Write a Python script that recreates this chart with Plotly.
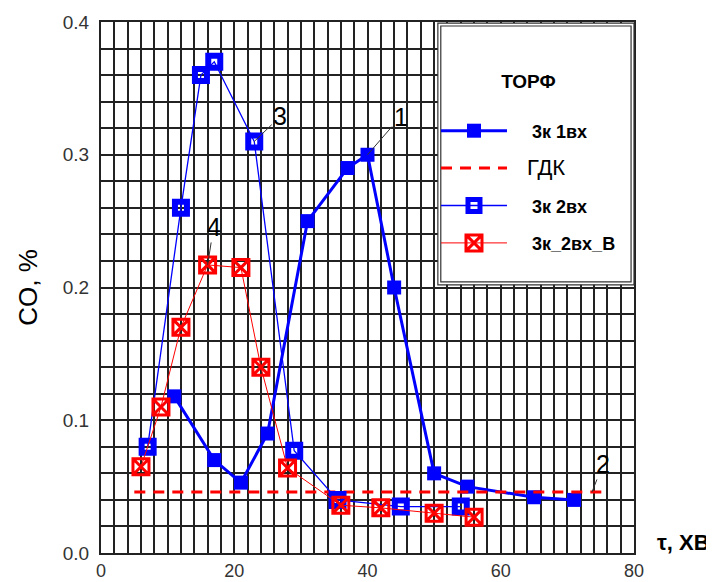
import plotly.graph_objects as go

# ---- data ----
x_1vh = [11, 17, 21, 25, 31, 37, 40, 44, 50, 55, 65, 71]
y_1vh = [0.118, 0.07, 0.053, 0.09, 0.25, 0.29, 0.30, 0.20, 0.06, 0.05, 0.042, 0.04]

x_gdk = [5, 75.5]
y_gdk = [0.046, 0.046]

x_2vh = [7, 12, 15, 17, 23, 29, 35.5, 45, 54]
y_2vh = [0.08, 0.26, 0.36, 0.37, 0.31, 0.077, 0.04, 0.035, 0.035]

x_2vh_b = [6, 9, 12, 16, 21, 24, 28, 36, 42, 50, 56]
y_2vh_b = [0.065, 0.11, 0.17, 0.217, 0.215, 0.14, 0.064, 0.036, 0.034, 0.03, 0.027]

names = ["3к 1вх", "ГДК", "3к 2вх", "3к_2вх_В"]
legend_title = "ТОРФ"
x_ticks = [0, 20, 40, 60, 80]
y_ticks = [0.0, 0.1, 0.2, 0.3, 0.4]

# curve labels: (text, x, y, ax, ay)
labels = [("1", 40, 0.30, 33, -38), ("2", 73.7, 0.046, 11, -28),
          ("3", 23, 0.31, 26, -25), ("4", 16, 0.217, 6, -38)]

BLUE = "#0000FF"
RED = "#FF0000"
FONT = "Liberation Sans, Arial, sans-serif"
NB = "\u00a0"

fig = go.Figure()
fig.add_trace(go.Scatter(
    x=x_1vh, y=y_1vh, mode="lines+markers", name=NB * 4 + "<b>" + names[0] + "</b>",
    legendgroup="a",
    line=dict(color=BLUE, width=3),
    marker=dict(symbol="square", size=14, color=BLUE)))
fig.add_trace(go.Scatter(
    x=x_gdk, y=y_gdk, mode="lines", name=NB * 3 + "<span style='font-size:22px'>" + names[1] + "</span>",
    legendgroup="b",
    line=dict(color=RED, width=3, dash="11px,8px")))
fig.add_trace(go.Scatter(
    x=x_2vh, y=y_2vh, mode="lines+markers", name=NB * 4 + "<b>" + names[2] + "</b>",
    legendgroup="c",
    line=dict(color=BLUE, width=1.3),
    marker=dict(symbol="square-open", size=12, color=BLUE, line=dict(color=BLUE, width=6))))
fig.add_trace(go.Scatter(
    x=x_2vh_b, y=y_2vh_b, mode="lines+markers", name=NB * 4 + "<b>" + names[3] + "</b>",
    legendgroup="d",
    line=dict(color=RED, width=1),
    marker=dict(symbol="square-x-open", size=16, color=RED, line=dict(color=RED, width=3))))

for t, xx, yy, ax, ay in labels:
    fig.add_annotation(x=xx, y=yy, text=t, showarrow=True, arrowhead=0, arrowwidth=1,
                       arrowcolor="#333", ax=ax, ay=ay, standoff=0,
                       font=dict(family=FONT, size=25, color="black"))

fig.add_annotation(xref="paper", yref="paper", x=1.039, y=0.019, text="<b>τ, ХВ</b>",
                   showarrow=False, xanchor="left", yanchor="middle",
                   font=dict(family=FONT, size=22, color="black"))

# legend frame (double border)
fig.add_shape(type="rect", xref="paper", yref="paper", layer="above",
              x0=0.632, x1=1.0, y0=0.505, y1=0.998,
              fillcolor="white", line=dict(color="#333", width=1.2))
fig.add_shape(type="rect", xref="paper", yref="paper", layer="above",
              x0=0.6375, x1=0.9945, y0=0.5105, y1=0.9925,
              fillcolor="rgba(0,0,0,0)", line=dict(color="#333", width=1.2))

grid = dict(showgrid=True, gridcolor="#222", gridwidth=1.5)
fig.update_xaxes(range=[0, 80], tickvals=x_ticks, ticks="", zeroline=False, automargin=False,
                 showline=True, mirror=True, linecolor="#222", linewidth=2,
                 ticklabelstandoff=0,
                 minor=dict(dtick=2, showgrid=True, gridcolor="#222", gridwidth=1.5),
                 tickfont=dict(family=FONT, size=18, color="#333"), **grid)
fig.update_yaxes(range=[0, 0.4], tickvals=y_ticks, tickformat=".1f", ticks="", zeroline=False,
                 automargin=False,
                 showline=True, mirror=True, linecolor="#222", linewidth=2,
                 ticklabelstandoff=6,
                 minor=dict(dtick=0.02, showgrid=True, gridcolor="#222", gridwidth=1.5),
                 tickfont=dict(family=FONT, size=19, color="#333"),
                 title=dict(text="CO, %", font=dict(family=FONT, size=26, color="black"), standoff=18),
                 **grid)

fig.update_layout(
    width=706, height=574,
    margin=dict(l=93, r=80, t=14, b=29),
    paper_bgcolor="white", plot_bgcolor="white",
    showlegend=True,
    legend=dict(x=0.6285, xanchor="left", y=0.9226, yanchor="top",
                bgcolor="rgba(0,0,0,0)", borderwidth=0,
                itemwidth=66, tracegroupgap=11, traceorder="grouped",
                font=dict(family=FONT, size=18, color="black"),
                title=dict(text="<b>" + legend_title + "</b><br><span style='font-size:10px'> </span>",
                           side="top center",
                           font=dict(family=FONT, size=19, color="black"))),
)

fig.write_html("out.html")
